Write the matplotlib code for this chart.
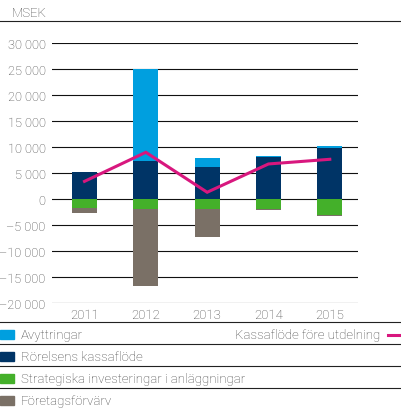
import matplotlib
matplotlib.use("Agg")
import matplotlib.pyplot as plt
from matplotlib.lines import Line2D
from matplotlib.patches import Rectangle
import numpy as np

plt.rcParams["font.family"] = ["Roboto", "DejaVu Sans"]
plt.rcParams["font.weight"] = "light"

years = ["2011", "2012", "2013", "2014", "2015"]
# MSEK
rorelsens = [5200, 7300, 6200, 8100, 9850]
avyttringar = [0, 17700, 1700, 200, 350]
strategiska = [-1700, -1900, -1900, -1950, -3050]
forvarv = [-1000, -14850, -5400, -250, -200]
kassaflode = [3400, 9000, 1300, 6750, 7650]

yticks = [-20000, -15000, -10000, -5000, 0, 5000, 10000, 15000, 20000, 25000, 30000]

legend_labels = ["Avyttringar", "Rörelsens kassaflöde",
                 "Strategiska investeringar i anläggningar", "Företagsförvärv"]
line_label = "Kassaflöde före utdelning"

c_light = "#009fdf"
c_navy = "#003466"
c_green = "#44b02a"
c_brown = "#7a7066"
c_pink = "#d8177e"
txt = "#444444"

W, H = 402, 414
fig = plt.figure(figsize=(W / 100, H / 100), dpi=100)
ax = fig.add_axes([52 / W, 1 - 303.8 / H, 306 / W, (303.8 - 44.3) / H])

x = np.arange(len(years))
w = 0.41
ax.bar(x, rorelsens, w, color=c_navy, zorder=2)
ax.bar(x, avyttringar, w, bottom=rorelsens, color=c_light, zorder=2)
ax.bar(x, strategiska, w, color=c_green, zorder=2)
ax.bar(x, forvarv, w, bottom=strategiska, color=c_brown, zorder=2)
ax.plot(x, kassaflode, color=c_pink, lw=2.2, zorder=3, solid_joinstyle="miter")

ax.set_xlim(-0.53, 4.46)
ax.set_ylim(-20000, 30000)
for v in yticks:
    ax.axhline(v, color="#111111", lw=0.8, zorder=1)


def fmt(v):
    s = f"{abs(v):,}".replace(",", " ")
    return ("\u2013" + s) if v < 0 else s


ax.set_yticks(yticks)
ax.set_yticklabels([fmt(v) for v in yticks])
ax.set_xticks(x)
ax.set_xticklabels(years)
ax.tick_params(length=0, labelsize=9.5, labelcolor=txt)
ax.tick_params(axis="y", pad=4.5, labelsize=9.2)
ax.tick_params(axis="x", pad=4)
for s in ax.spines.values():
    s.set_visible(False)

# header
fig.text(12 / W, 1 - 13.5 / H, "MSEK", fontsize=9.5, color=txt, va="center", ha="left")
fig.add_artist(Line2D([0, 1], [1 - 22 / H] * 2, color="#222222", lw=0.8))

# legend rows
rows_y = [335.5, 357.5, 379.5, 401.5]
seps = [323.3, 345.3, 367.3, 389.3]
for s in seps:
    fig.add_artist(Line2D([0, 1], [1 - s / H] * 2, color="#222222", lw=0.8))
for lab, col, yc in zip(legend_labels, [c_light, c_navy, c_green, c_brown], rows_y):
    fig.add_artist(Rectangle((0, 1 - (yc + 4.5) / H), 14 / W, 9.5 / H,
                             color=col, transform=fig.transFigure))
    fig.text(21 / W, 1 - yc / H, lab, fontsize=9.5, color=txt, va="center", ha="left")

fig.text(380 / W, 1 - rows_y[0] / H, line_label, fontsize=9.5, color=txt,
         va="center", ha="right")
fig.add_artist(Line2D([388 / W, 1], [1 - rows_y[0] / H] * 2, color=c_pink, lw=2.2))

fig.savefig("out.png", dpi=100)
